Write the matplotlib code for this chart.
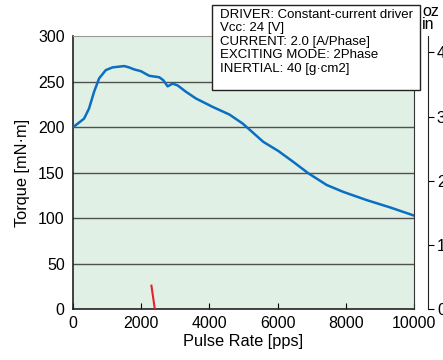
import matplotlib.pyplot as plt
from matplotlib.patches import Rectangle

plt.rcParams['font.family'] = ['Liberation Sans', 'DejaVu Sans']

# pull-out torque curve
pulse_rate = [0, 324, 470, 618, 765, 960, 1157, 1500, 1647, 1794, 1990, 2235,
              2529, 2647, 2775, 2922, 3069, 3314, 3608, 4097, 4588, 4980, 5191,
              5581, 6020, 6460, 6900, 7440, 7927, 8612, 9296, 10000]
torque = [200, 209.5, 220.6, 239, 253.7, 262.8, 265.8, 267.3, 265.8, 263.6,
          261.7, 256.6, 255, 251.8, 245, 248, 246, 239, 231.6, 222.4, 214, 204,
          197, 184, 174, 162, 149.5, 136.6, 129, 120, 112, 103]

# start frequency marker
start_x = [2300, 2400]
start_y = [26, 0]

conditions = ['DRIVER: Constant-current driver',
              'Vcc: 24 [V]',
              'CURRENT: 2.0 [A/Phase]',
              'EXCITING MODE: 2Phase',
              'INERTIAL: 40 [g\u00b7cm2]']

x_ticks = [0, 2000, 4000, 6000, 8000, 10000]
y_ticks = [0, 50, 100, 150, 200, 250, 300]
ozin_ticks = [0, 10, 20, 30, 40]
MNM_PER_OZIN = 7.0616

W, H = 443, 360
fig = plt.figure(figsize=(W / 100, H / 100), dpi=100)
ax = fig.add_axes([73 / W, 1 - 309.3 / H, 341 / W, 273 / H])
ax.set_facecolor('#e1f0e5')

for v in y_ticks[1:-1]:
    ax.axhline(v, color='#505050', lw=1.0, zorder=1)

ax.plot(pulse_rate, torque, color='#0a6fc2', lw=1.8, zorder=3,
        solid_joinstyle='round')
ax.plot(start_x, start_y, color='#e8202e', lw=1.5, zorder=3)

ax.set_xlim(0, 10000)
ax.set_ylim(0, 300)
ax.set_xticks(x_ticks)
ax.set_yticks(y_ticks)
ax.tick_params(axis='x', direction='in', length=4.5, width=0.8, labelsize=11.5, pad=5)
ax.tick_params(axis='y', length=0, labelsize=11.5, pad=6)
ax.set_xlabel('Pulse Rate [pps]', fontsize=11.8, labelpad=2)
ax.set_ylabel('Torque [mN\u00b7m]', fontsize=11.8, labelpad=6)
for side in ['left', 'bottom']:
    ax.spines[side].set_color('#222222')
    ax.spines[side].set_linewidth(1.2)
ax.spines['right'].set_color('#333333')
ax.spines['top'].set_color('#999999')
ax.spines['top'].set_linewidth(0.8)

# secondary scale in oz·in
ax2 = ax.twinx()
ax2.set_ylim(0, 300 / MNM_PER_OZIN)
ax2.set_yticks(ozin_ticks)
ax2.spines['right'].set_position(('outward', 10))
ax2.spines['right'].set_color('#222222')
for side in ['left', 'top', 'bottom']:
    ax2.spines[side].set_visible(False)
ax2.tick_params(axis='y', direction='out', length=4.5, width=0.8, labelsize=11.5, pad=2)
fig.text(422 / W, 1 - 4 / H, 'oz\nin', fontsize=11.5, va='top', ha='left',
         linespacing=0.8)

# test conditions box
fig.patches.append(Rectangle((212 / W, 1 - 90 / H), 208 / W, 85 / H,
                             transform=fig.transFigure, facecolor='white',
                             edgecolor='#222222', lw=1.0, zorder=5))
fig.text(220 / W, 1 - 9 / H, '\n'.join(conditions), fontsize=9.5,
         va='top', ha='left', linespacing=1.16, zorder=6)

fig.savefig('out.png', dpi=100)
